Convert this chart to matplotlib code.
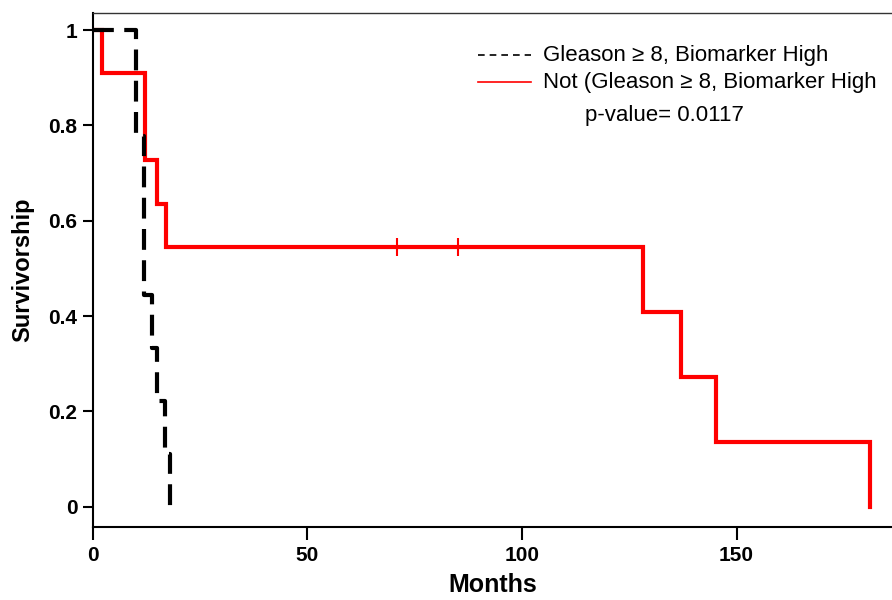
import matplotlib
matplotlib.use("Agg")
import matplotlib.pyplot as plt

# Data (Kaplan-Meier step curves)
high_times = [0, 10.1, 12.0, 13.8, 15.0, 16.8, 18.0]
high_surv = [1.0, 0.778, 0.444, 0.333, 0.222, 0.111, 0.0]

not_times = [0, 2.1, 12.2, 14.9, 17.1, 128.1, 137.0, 145.2, 181.1]
not_surv = [1.0, 0.909, 0.727, 0.636, 0.545, 0.409, 0.273, 0.136, 0.0]

censor_times = [71.0, 85.0]
censor_surv = [0.545, 0.545]

x_ticks = [0, 50, 100, 150]
x_tick_labels = ["0", "50", "100", "150"]
y_ticks = [0, 0.2, 0.4, 0.6, 0.8, 1.0]
y_tick_labels = ["0", "0.2", "0.4", "0.6", "0.8", "1"]

label_high = "Gleason \u2265 8, Biomarker High"
label_not = "Not (Gleason \u2265 8, Biomarker High"
pvalue_text = "p-value= 0.0117"

plt.rcParams['font.family'] = ['Liberation Sans', 'DejaVu Sans']

fig = plt.figure(figsize=(8.92, 6.0), dpi=100)
ax = fig.add_axes([0.1039, 0.1222, 0.8961, 0.8563])

ax.step(not_times, not_surv, where='post', color='#ff0000', lw=3, zorder=2,
        solid_joinstyle='miter', label=label_not)
ax.plot(censor_times, censor_surv, linestyle='none', marker='|', color='#ff0000',
        markersize=13, markeredgewidth=1.5, zorder=2)
ax.step(high_times, high_surv, where='post', color='black', lw=3, zorder=3,
        dashes=(5, 2.5), label=label_high)

ax.set_xlim(0, 186.2)
ax.set_ylim(-0.042, 1.036)

ax.set_xticks(x_ticks)
ax.set_xticklabels(x_tick_labels, fontsize=15, fontweight='bold')
ax.set_yticks(y_ticks)
ax.set_yticklabels(y_tick_labels, fontsize=15, fontweight='bold')
ax.tick_params(axis='x', direction='out', length=9, width=1.5, pad=5)
ax.tick_params(axis='y', direction='out', length=7, width=1.5, pad=4)

for s in ['left', 'bottom']:
    ax.spines[s].set_linewidth(1.5)
ax.spines['top'].set_linewidth(1.0)
ax.spines['top'].set_color('#333333')
ax.spines['right'].set_visible(False)

ax.set_xlabel("Months", fontsize=18, fontweight='bold', labelpad=6)
ax.set_ylabel("Survivorship", fontsize=17, fontweight='bold', labelpad=10)

# Legend drawn manually in axes coordinates
tr = ax.transAxes
ax.plot([0.482, 0.548], [0.918, 0.918], transform=tr, color='black', lw=1.2,
        dashes=(4, 3), clip_on=False)
ax.plot([0.482, 0.548], [0.8655, 0.8655], transform=tr, color='#ff0000', lw=1.2,
        clip_on=False)
ax.text(0.5634, 0.918, label_high, transform=tr, fontsize=16, ha='left', va='center')
ax.text(0.5634, 0.8655, label_not, transform=tr, fontsize=16, ha='left', va='center')
ax.text(0.616, 0.800, pvalue_text, transform=tr, fontsize=16, ha='left', va='center')

fig.savefig("out.png", dpi=100)
